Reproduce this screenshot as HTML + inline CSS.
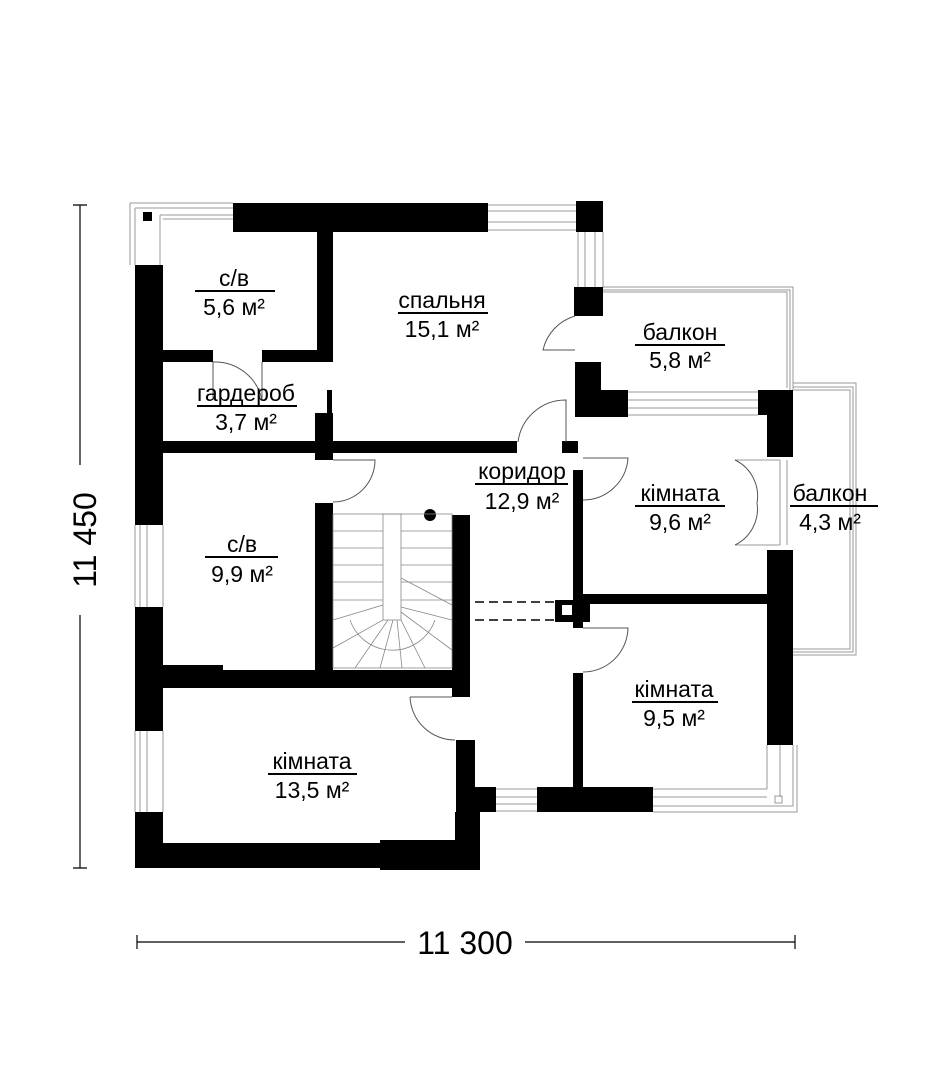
<!DOCTYPE html>
<html><head><meta charset="utf-8"><style>
html,body{margin:0;padding:0;background:#fff;}
svg{display:block;}
text{font-family:"Liberation Sans",sans-serif;fill:#000;}
.l{font-size:23px;text-anchor:middle;}
</style></head><body>
<svg width="926" height="1080" viewBox="0 0 926 1080" xmlns="http://www.w3.org/2000/svg">
<g fill="none" stroke="#999" stroke-width="1">
<path d="M130 203 H233 M130 203 V265 M135 208 H233 M135 208 V265 M160 215 H233 M160 215 V265 M163 219 H233"/>
<path d="M488 205 H576 M488 211 H576 M488 222 H576 M488 230 H576"/>
<path d="M578 232 V288 M585 232 V288 M595 232 V288 M603 232 V288"/>
<path d="M603 287 H793 V390 M603 290 H790 V390 M600 292 H787 V388"/>
<path d="M793 383 H856 V655 H793 M793 387 H853 V652 H793 M793 390 H850 V649 H793"/>
<path d="M628 392 H758 M628 400 H758 M628 408 H758 M628 415 H758"/>
<path d="M135 525 V607 M140 525 V607 M147 525 V607 M163 525 V607 M135 731 V812 M140 731 V812 M147 731 V812 M163 731 V812"/>
<path d="M476 789 H537 M476 797 H537 M476 804 H537 M476 811 H537"/>
<path d="M653 789 H767 M653 797 H767 M653 806 H793 V745 M653 812 H797 V745 M767 745 V789 M780 745 V797"/>
<rect x="775" y="796" width="7" height="7"/>
<path d="M735 460 H780 M735 545 H780 M780 460 V545 M787 460 V545"/>
</g>
<g fill="#000">
<rect x="143" y="212" width="9" height="9"/>
<rect x="233" y="203" width="255" height="29"/>
<rect x="576" y="201" width="27" height="31"/>
<rect x="574" y="287" width="29" height="29"/>
<rect x="575" y="362" width="26" height="55"/>
<rect x="600" y="390" width="28" height="27"/>
<rect x="758" y="390" width="35" height="25"/>
<rect x="767" y="390" width="26" height="67"/>
<rect x="135" y="265" width="28" height="260"/>
<rect x="135" y="607" width="28" height="124"/>
<rect x="135" y="812" width="28" height="56"/>
<rect x="317" y="232" width="16" height="130"/>
<rect x="163" y="350" width="50" height="12"/>
<rect x="262" y="350" width="71" height="12"/>
<rect x="315" y="413" width="18" height="47"/>
<rect x="327" y="390" width="5" height="23"/>
<rect x="163" y="441" width="354" height="12"/>
<rect x="562" y="441" width="16" height="12"/>
<rect x="315" y="503" width="18" height="168"/>
<rect x="163" y="665" width="60" height="22"/>
<rect x="163" y="670" width="307" height="18"/>
<rect x="452" y="515" width="18" height="182"/>
<rect x="573" y="470" width="10" height="130"/>
<rect x="583" y="594" width="184" height="10"/>
<rect x="555" y="600" width="35" height="22"/>
<rect x="573" y="622" width="10" height="6"/>
<rect x="573" y="673" width="10" height="114"/>
<rect x="767" y="550" width="26" height="195"/>
<rect x="456" y="740" width="19" height="72"/>
<rect x="456" y="787" width="40" height="25"/>
<rect x="537" y="787" width="116" height="25"/>
<rect x="135" y="843" width="320" height="25"/>
<rect x="380" y="840" width="100" height="30"/>
<rect x="455" y="812" width="25" height="58"/>
<circle cx="430" cy="515" r="6"/>
</g>
<rect x="562" y="605" width="10" height="10" fill="#fff"/>
<g fill="none" stroke="#555" stroke-width="1">
<path d="M575 316 A46 46 0 0 0 543 350 H575"/>
<path d="M213 362 V400 M262 362 V400 A48 48 0 0 0 213 362"/>
<path d="M518 442 A48 48 0 0 1 566 400 V442"/>
<path d="M333 460 H375 V460 A42 42 0 0 1 333 502"/>
<path d="M583 458 H628 A45 45 0 0 1 583 500"/>
<path d="M583 628 H628 A45 45 0 0 1 583 672"/>
<path d="M410 697 H452 M410 697 A45 45 0 0 0 455 740"/>
<path d="M735 460 A40 40 0 0 1 757 503 M735 545 A40 40 0 0 0 757 503"/>
</g>
<g stroke="#000" stroke-width="1.5" stroke-dasharray="9 5" fill="none">
<path d="M475 602 H555 M475 620 H555"/>
</g>
<g fill="none" stroke="#888" stroke-width="0.8">
<rect x="333" y="514" width="119" height="154"/>
<rect x="383" y="514" width="18" height="106"/>
<path d="M333 531 H383 M333 548 H383 M333 565 H383 M333 582 H383 M333 600 H383"/>
<path d="M401 531 H452 M401 548 H452 M401 565 H452 M401 582 H452 M401 600 H452"/>
<path d="M333 620 L383 605 M333 648 L383 620 M355 668 L388 620 M380 668 L393 620 M402 668 L397 620 M425 668 L401 620 M452 650 L401 612 M452 620 L401 607"/>
<path d="M350 620 A45 45 0 0 0 435 620"/>
<path d="M401 578 L452 605"/>
</g>
<g stroke="#000" stroke-width="2">
<path d="M195 291 H275 M398 313 H488 M635 345 H725 M197 406 H297 M475 484 H568 M635 506 H725 M790 506 H878 M205 557 H278 M632 702 H718 M268 774 H357"/>
</g>
<text class="l" x="234" y="286">с/в</text>
<text class="l" x="234" y="315">5,6 м²</text>
<text class="l" x="442" y="308">спальня</text>
<text class="l" x="442" y="337">15,1 м²</text>
<text class="l" x="680" y="340">балкон</text>
<text class="l" x="680" y="368">5,8 м²</text>
<text class="l" x="246" y="401">гардероб</text>
<text class="l" x="246" y="430">3,7 м²</text>
<text class="l" x="522" y="479">коридор</text>
<text class="l" x="522" y="509">12,9 м²</text>
<text class="l" x="680" y="501">кімната</text>
<text class="l" x="680" y="530">9,6 м²</text>
<text class="l" x="830" y="501">балкон</text>
<text class="l" x="830" y="530">4,3 м²</text>
<text class="l" x="242" y="552">с/в</text>
<text class="l" x="242" y="582">9,9 м²</text>
<text class="l" x="674" y="697">кімната</text>
<text class="l" x="674" y="726">9,5 м²</text>
<text class="l" x="312" y="769">кімната</text>
<text class="l" x="312" y="798">13,5 м²</text>
<g stroke="#000" stroke-width="1.2">
<path d="M80 205 V868 M73 205 H87 M73 868 H87"/>
<path d="M137 942 H405 M525 942 H795 M137 935 V949 M795 935 V949"/>
</g>
<rect x="60" y="465" width="40" height="150" fill="#fff"/>
<text x="96" y="540" font-size="32" text-anchor="middle" transform="rotate(-90 96 540)">11 450</text>
<text x="465" y="954" font-size="32" text-anchor="middle">11 300</text>
</svg>
</body></html>
